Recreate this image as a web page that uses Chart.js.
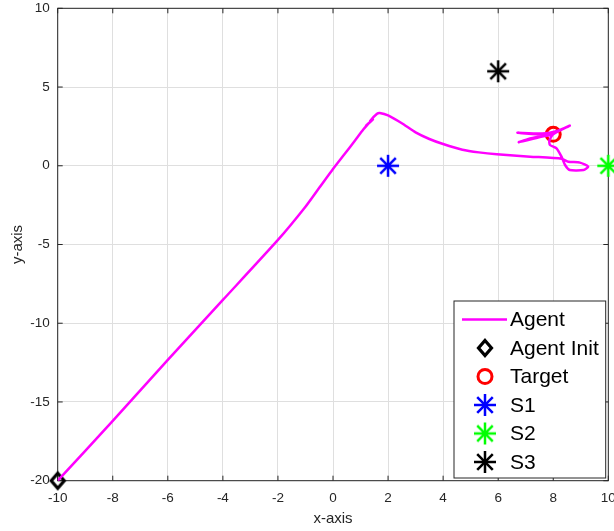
<!DOCTYPE html>
<html>
<head>
<meta charset="utf-8">
<script src="https://cdn.jsdelivr.net/npm/chart.js@4/dist/chart.umd.min.js"></script>
<style>
  html, body { margin: 0; padding: 0; background: #fff; }
  #wrap { width: 614px; height: 531px; }
</style>
</head>
<body>
<div id="wrap"><canvas id="c" width="614" height="531"></canvas></div>
<script>
// Agent trajectory
const agentX = [-10, -8, -6, -4, -2, -1, -0.5, 0, 0.4, 0.8, 1.1, 1.3, 1.2, 1.45, 1.35, 1.6, 1.7,
  2.0, 2.5, 3.0, 3.5, 4.0, 4.7, 5.3, 5.95, 7.16, 8.3,
  8.55, 8.97, 9.27, 9.1, 8.6, 8.43, 8.3, 8.12, 7.88, 7.86,
  8.0, 8.6, 8.2, 7.6, 6.7, 7.4, 7.9, 7.2, 6.75, 7.6, 8.0];
const agentY = [-20, -16.2, -12.33, -8.52, -4.71, -2.6, -1.4, -0.2, 0.7, 1.6, 2.3, 2.7, 2.55, 2.95, 2.85, 3.3, 3.35,
  3.2, 2.7, 2.12, 1.7, 1.38, 1.02, 0.85, 0.73, 0.58, 0.45,
  0.26, 0.2, -0.06, -0.27, -0.27, 0.05, 0.58, 1.11, 1.32, 1.6,
  2.0, 2.55, 2.25, 2.05, 2.1, 2.0, 1.95, 1.75, 1.5, 1.85, 2.0];

// Start point and target
const initX = [-10];
const initY = [-20];
const targetX = [8];
const targetY = [2];

// Sensors
const sensorNames = ['S1', 'S2', 'S3'];
const sensorX = [2, 10, 6];
const sensorY = [0, 0, 6];

// Tick values
const xTickValues = [-10, -8, -6, -4, -2, 0, 2, 4, 6, 8, 10];
const yTickValues = [-20, -15, -10, -5, 0, 5, 10];

const toPoints = (xs, ys) => xs.map((x, i) => ({ x: x, y: ys[i] }));

// Marker images
function makeAsterisk(color) {
  const c = document.createElement('canvas');
  c.width = 26; c.height = 26;
  const g = c.getContext('2d');
  g.strokeStyle = color;
  g.lineWidth = 2.5;
  g.lineCap = 'butt';
  const r = 11;
  for (let k = 0; k < 4; k++) {
    const a = k * Math.PI / 4;
    g.beginPath();
    g.moveTo(13 - r * Math.cos(a), 13 - r * Math.sin(a));
    g.lineTo(13 + r * Math.cos(a), 13 + r * Math.sin(a));
    g.stroke();
  }
  return c;
}
function makeDiamond(color) {
  const c = document.createElement('canvas');
  c.width = 26; c.height = 30;
  const g = c.getContext('2d');
  g.strokeStyle = color;
  g.lineWidth = 3.2;
  g.lineJoin = 'miter';
  g.beginPath();
  g.moveTo(13, 7.5);
  g.lineTo(19.5, 15);
  g.lineTo(13, 22.5);
  g.lineTo(6.5, 15);
  g.closePath();
  g.stroke();
  return c;
}

const sensorColors = ['#0000ff', '#00ff00', '#000000'];
const sensorSets = sensorNames.map((name, i) => ({
  label: name,
  data: toPoints([sensorX[i]], [sensorY[i]]),
  pointStyle: makeAsterisk(sensorColors[i]),
  pointRadius: 11,
  showLine: false,
  clip: false
}));

const axisColor = '#262626';
const fontFamily = "'Liberation Sans', Arial, Helvetica, sans-serif";

// Axes box with inward tick marks
const axesBox = {
  id: 'axesBox',
  beforeDatasetsDraw(chart) {
    const { ctx, chartArea: a, scales } = chart;
    ctx.save();
    ctx.strokeStyle = axisColor;
    ctx.lineWidth = 1;
    ctx.strokeRect(a.left, a.top, a.right - a.left, a.bottom - a.top);
    const tl = 5;
    ctx.beginPath();
    xTickValues.forEach(v => {
      const px = scales.x.getPixelForValue(v);
      ctx.moveTo(px, a.bottom); ctx.lineTo(px, a.bottom - tl);
      ctx.moveTo(px, a.top); ctx.lineTo(px, a.top + tl);
    });
    yTickValues.forEach(v => {
      const py = scales.y.getPixelForValue(v);
      ctx.moveTo(a.left, py); ctx.lineTo(a.left + tl, py);
      ctx.moveTo(a.right, py); ctx.lineTo(a.right - tl, py);
    });
    ctx.stroke();
    ctx.restore();
  }
};

// Legend box in the lower right corner of the plot
const insetLegend = {
  id: 'insetLegend',
  afterDraw(chart) {
    const { ctx, chartArea: a } = chart;
    const x1 = a.right - 2.6, y1 = a.bottom - 2.7;
    const x0 = x1 - 151.7, y0 = y1 - 177;
    ctx.save();
    ctx.fillStyle = '#ffffff';
    ctx.fillRect(x0, y0, x1 - x0, y1 - y0);
    ctx.strokeStyle = axisColor;
    ctx.lineWidth = 1;
    ctx.strokeRect(x0, y0, x1 - x0, y1 - y0);
    ctx.font = '21px ' + fontFamily;
    ctx.textBaseline = 'middle';
    ctx.textAlign = 'left';
    const sx = x0 + 31;
    chart.data.datasets.forEach((ds, i) => {
      const y = y0 + 18.5 + i * 28.5;
      if (ds.showLine) {
        ctx.strokeStyle = ds.borderColor;
        ctx.lineWidth = ds.borderWidth;
        ctx.beginPath();
        ctx.moveTo(sx - 23, y);
        ctx.lineTo(sx + 22, y);
        ctx.stroke();
      } else if (typeof ds.pointStyle === 'object') {
        ctx.drawImage(ds.pointStyle, sx - ds.pointStyle.width / 2, y - ds.pointStyle.height / 2);
      } else {
        ctx.strokeStyle = ds.pointBorderColor;
        ctx.lineWidth = ds.pointBorderWidth;
        ctx.beginPath();
        ctx.arc(sx, y, ds.pointRadius, 0, Math.PI * 2);
        ctx.stroke();
      }
      ctx.fillStyle = '#000000';
      ctx.fillText(ds.label, x0 + 56, y + 1);
    });
    ctx.restore();
  }
};

new Chart(document.getElementById('c'), {
  type: 'scatter',
  data: {
    datasets: [
      {
        label: 'Agent',
        data: toPoints(agentX, agentY),
        showLine: true,
        borderColor: '#ff00ff',
        borderWidth: 2.5,
        pointRadius: 0,
        tension: 0.2
      },
      {
        label: 'Agent Init',
        data: toPoints(initX, initY),
        pointStyle: makeDiamond('#000000'),
        pointRadius: 12,
        showLine: false,
        clip: false
      },
      {
        label: 'Target',
        data: toPoints(targetX, targetY),
        pointStyle: 'circle',
        pointRadius: 7,
        pointBorderWidth: 3,
        pointBorderColor: '#ff0000',
        pointBackgroundColor: 'rgba(0,0,0,0)',
        showLine: false,
        clip: false
      },
      ...sensorSets
    ]
  },
  options: {
    responsive: false,
    animation: false,
    events: [],
    layout: { autoPadding: false, padding: { top: 8.3, right: 5.7, left: 0, bottom: 0 } },
    plugins: {
      legend: { display: false },
      tooltip: { enabled: false }
    },
    scales: {
      x: {
        type: 'linear',
        min: -10, max: 10,
        afterBuildTicks: s => { s.ticks = xTickValues.map(v => ({ value: v })); },
        afterFit: s => { s.height = 50.3; s.paddingLeft = 0; s.paddingRight = 0; },
        ticks: {
          color: axisColor,
          font: { family: fontFamily, size: 13.5 },
          padding: 9,
          maxRotation: 0,
          autoSkip: false
        },
        grid: { color: '#dfdfdf', lineWidth: 1, drawTicks: false },
        border: { display: false },
        title: {
          display: true,
          text: 'x-axis',
          color: axisColor,
          font: { family: fontFamily, size: 15 },
          padding: { top: 0, bottom: 3 }
        }
      },
      y: {
        type: 'linear',
        min: -20, max: 10,
        afterBuildTicks: s => { s.ticks = yTickValues.map(v => ({ value: v })); },
        afterFit: s => { s.width = 57.7; s.paddingTop = 0; s.paddingBottom = 0; },
        ticks: {
          color: axisColor,
          font: { family: fontFamily, size: 13.5 },
          padding: 8,
          autoSkip: false
        },
        grid: { color: '#dfdfdf', lineWidth: 1, drawTicks: false },
        border: { display: false },
        title: {
          display: true,
          text: 'y-axis',
          color: axisColor,
          font: { family: fontFamily, size: 15 },
          padding: { top: 8.5, bottom: 0 }
        }
      }
    }
  },
  plugins: [axesBox, insetLegend]
});
</script>
</body>
</html>
